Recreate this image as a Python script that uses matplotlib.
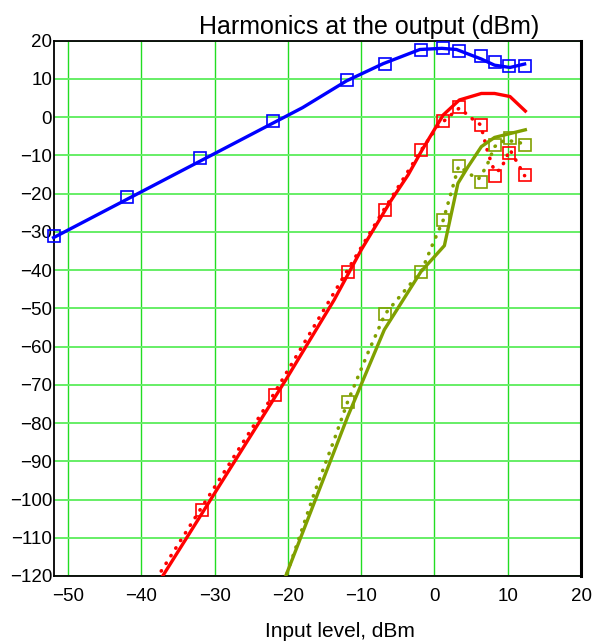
import matplotlib
matplotlib.use("Agg")
import matplotlib.pyplot as plt

plt.rcParams['font.family'] = ['Liberation Sans', 'DejaVu Sans']

# fundamental (blue)
fund_x = [-52, -42, -32, -22, -18, -12, -7, -2, 1, 3, 6.4, 8.2, 10.3, 12.3]
fund_y = [-31.5, -21.5, -11.5, -1.5, 2.5, 9.5, 14, 17.7, 18, 17.7, 15.2, 13.6, 13, 13.9]
fund_mx = [-52, -42, -32, -22, -12, -6.7, -1.8, 1.2, 3.3, 6.4, 8.2, 10.2, 12.3]
fund_my = [-31, -20.8, -10.8, -0.9, 9.7, 14, 17.6, 18.2, 17.4, 16, 14.4, 13.5, 13.5]

# 2nd harmonic (red)
h2_x = [-37.1, -20.3, -13.7, -10, -5.9, -3.6, -1.7, 1.2, 3.4, 6.4, 8.2, 10.3, 12.4]
h2_y = [-120, -68.7, -47.8, -34.7, -21.7, -15.1, -8.6, 0.6, 4.5, 6.2, 6.2, 5.4, 1.6]
h2d_x = [-37.3, -32, -22, -12, -7, -1.8, 0.4, 2.5, 3.4, 5.2, 6.3, 7.3, 8.2, 9.0, 10.3, 12.3]
h2d_y = [-118.7, -102.7, -72.6, -40.4, -24.5, -8.6, -2.5, 1, 2.4, -0.5, -2, -9.4, -14.2, -13.8, -8.5, -15.3]
h2_mx = [-31.8, -21.8, -11.85, -6.75, -1.8, 1.15, 3.3, 6.3, 8.3, 10.2, 12.3]
h2_my = [-102.7, -72.6, -40.4, -24.3, -8.6, -0.9, 2.7, -2.0, -15.4, -9.4, -15.1]

# 3rd harmonic (olive)
h3_x = [-20.3, -11.85, -6.85, -1.85, 1.35, 3.2, 4.6, 6.4, 8.2, 10.5, 12.4]
h3_y = [-120, -78.3, -55.6, -40.4, -33.6, -17.3, -12.9, -7.7, -5.3, -4.2, -3.3]
h3d_x = [-20.1, -16.4, -13.7, -11.85, -9.1, -6.75, -3.6, -1.8, -0.2, 1.2, 2.5, 3.3, 5.0, 6.0, 7.1, 8.2, 9.6, 11.0, 12.3]
h3d_y = [-119.2, -98.3, -84.4, -74.4, -61.7, -51.5, -44.3, -40.4, -33, -26.9, -18.2, -12.8, -15.1, -16.2, -12.9, -7.7, -6.0, -6.4, -7.0]
h3_mx = [-11.85, -6.75, -1.8, 1.2, 3.3, 6.3, 8.3, 10.3, 12.3]
h3_my = [-74.4, -51.5, -40.4, -26.9, -12.8, -16.9, -7.4, -5.5, -7.4]

xticks = [-50, -40, -30, -20, -10, 0, 10, 20]
yticks = list(range(-120, 21, 10))

BLUE = '#0000ff'
RED = '#ff0000'
OLIVE = '#80a000'

fig = plt.figure(figsize=(6.08, 6.43), dpi=100)
ax = fig.add_axes([0.0893, 0.1042, 0.8663, 0.8325])

ax.set_xlim(-51.9, 20)
ax.set_ylim(-120, 20)
ax.set_xticks(xticks)
ax.set_yticks(yticks)

for t in xticks:
    ax.axvline(t, color='#22dd22', lw=1.0, zorder=0)
for t in yticks:
    ax.axhline(t, color='#66ee66', lw=1.4, zorder=0)

dot = dict(linestyle=(0, (0.1, 2.4)), dash_capstyle='round', lw=2.6)
mk = dict(marker='s', linestyle='none', markersize=8.5, markerfacecolor='none', mew=1.2)

ax.plot(fund_x, fund_y, color=BLUE, lw=2.4, zorder=3, clip_on=False)
ax.plot(fund_mx, fund_my, color=BLUE, zorder=4, clip_on=False, **mk)

ax.plot(h2_x, h2_y, color=RED, lw=2.4, zorder=3)
ax.plot(h2d_x, h2d_y, color=RED, zorder=3, **dot)
ax.plot(h2_mx, h2_my, color=RED, zorder=4, **mk)

ax.plot(h3_x, h3_y, color=OLIVE, lw=2.4, zorder=3)
ax.plot(h3d_x, h3d_y, color=OLIVE, zorder=3, **dot)
ax.plot(h3_mx, h3_my, color=OLIVE, zorder=4, **mk)

ax.tick_params(length=0, labelsize=13.5)
ax.tick_params(axis='x', pad=9)
ax.tick_params(axis='y', pad=1.5)
for s in ['left', 'bottom', 'top']:
    ax.spines[s].set_linewidth(1.3)
ax.spines['right'].set_linewidth(2.2)

ax.set_title('Harmonics at the output (dBm)', fontsize=18, x=0.598, pad=5)
ax.set_xlabel('Input level, dBm', fontsize=15, x=0.542, labelpad=12)

fig.savefig('out.png', dpi=100)
